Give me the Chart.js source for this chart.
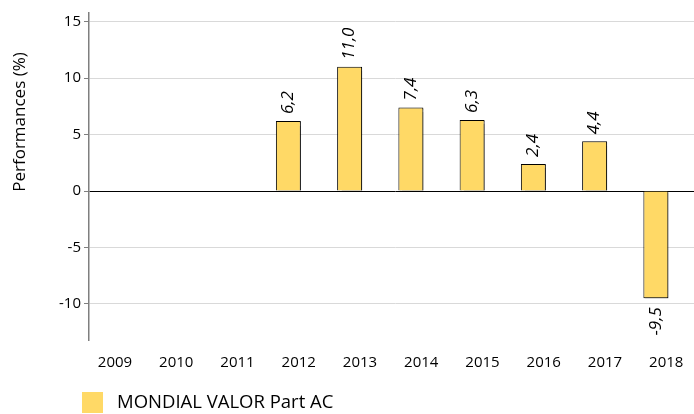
<!DOCTYPE html>
<html>
<head>
<meta charset="utf-8">
<script src="https://cdn.jsdelivr.net/npm/chart.js@4/dist/chart.umd.min.js"></script>
<style>
  html, body { margin: 0; padding: 0; background: #fff; overflow: hidden; }
  #wrap { width: 702px; height: 414px; position: relative; }
</style>
</head>
<body>
<div id="wrap"><canvas id="perfChart"></canvas></div>
<script>
// Performances annuelles – MONDIAL VALOR Part AC
const annees = ['2009', '2010', '2011', '2012', '2013', '2014', '2015', '2016', '2017', '2018'];
const performances = [null, null, null, 6.2, 11.0, 7.4, 6.3, 2.4, 4.4, -9.5];
const vide = [null, null, null, null, null, null, null, null, null, null];
const graduations = [-10, -5, 0, 5, 10, 15];
const nomFonds = 'MONDIAL VALOR Part AC';

const jaune = '#FFD966';
const police = "'Open Sans', sans-serif";

// ombre légère sous les barres
const ombreBarres = {
  id: 'ombreBarres',
  beforeDatasetDraw(chart) {
    const ctx = chart.ctx;
    ctx.save();
    ctx.shadowColor = 'rgba(0,0,0,0.45)';
    ctx.shadowOffsetX = 1.5;
    ctx.shadowOffsetY = 1;
    ctx.shadowBlur = 1;
  },
  afterDatasetDraw(chart) {
    chart.ctx.restore();
  }
};

// étiquettes de valeur verticales, format français
const etiquettes = {
  id: 'etiquettes',
  afterDatasetsDraw(chart) {
    const ctx = chart.ctx;
    const meta = chart.getDatasetMeta(0);
    ctx.save();
    ctx.font = 'italic 17px ' + police;
    ctx.fillStyle = '#000';
    ctx.textBaseline = 'middle';
    meta.data.forEach((bar, i) => {
      const v = performances[i];
      if (v === null) return;
      const txt = v.toFixed(1).replace('.', ',');
      ctx.save();
      if (v >= 0) {
        ctx.translate(bar.x, bar.y - 7);
        ctx.rotate(-Math.PI / 2);
        ctx.textAlign = 'left';
      } else {
        ctx.translate(bar.x, bar.y + 9);
        ctx.rotate(-Math.PI / 2);
        ctx.textAlign = 'right';
      }
      ctx.fillText(txt, 0, 0);
      ctx.restore();
    });
    ctx.restore();
  }
};

// titre de l'axe vertical et légende en bas à gauche
const decor = {
  id: 'decor',
  afterDraw(chart) {
    const ctx = chart.ctx;
    ctx.save();
    ctx.fillStyle = '#000';
    ctx.font = '17px ' + police;
    ctx.textAlign = 'center';
    ctx.textBaseline = 'middle';
    ctx.translate(20, 122);
    ctx.rotate(-Math.PI / 2);
    ctx.fillText('Performances (%)', 0, 0);
    ctx.restore();

    ctx.save();
    ctx.fillStyle = jaune;
    ctx.fillRect(82, 392, 21, 21);
    ctx.fillStyle = '#000';
    ctx.font = '18.5px ' + police;
    ctx.textAlign = 'left';
    ctx.textBaseline = 'middle';
    ctx.fillText(chart.data.datasets[0].label, 117, 403);
    ctx.restore();
  }
};

new Chart(document.getElementById('perfChart'), {
  type: 'bar',
  data: {
    labels: annees,
    datasets: [{
      label: nomFonds,
      data: performances,
      backgroundColor: jaune,
      borderColor: '#000',
      borderWidth: 1,
      barPercentage: 0.833,
      categoryPercentage: 0.979
    }, {
      // série vide : décale la barre à gauche du libellé
      label: '',
      data: vide,
      backgroundColor: 'transparent',
      barPercentage: 0.833,
      categoryPercentage: 0.979
    }]
  },
  options: {
    responsive: true,
    maintainAspectRatio: false,
    animation: false,
    layout: { padding: { top: 13, right: 0, bottom: 0, left: 0 } },
    plugins: {
      legend: { display: false },
      tooltip: { enabled: false }
    },
    scales: {
      x: {
        grid: { display: false, drawTicks: false },
        border: { display: false },
        ticks: { color: '#000', font: { family: police, size: 15 }, padding: 14, maxRotation: 0, labelOffset: -4.6 },
        afterFit(axis) { axis.height = 74; }
      },
      y: {
        min: -13.2,
        max: 15.77,
        afterBuildTicks(axis) {
          axis.ticks = graduations.map(v => ({ value: v }));
        },
        grid: {
          color: ctx => ctx.tick && ctx.tick.value === 0 ? '#000' : '#d9d9d9',
          lineWidth: 1,
          tickColor: '#7f7f7f',
          tickLength: 5
        },
        border: { color: '#7f7f7f', width: 1.5 },
        ticks: { color: '#000', font: { family: police, size: 15 }, padding: 3 },
        afterFit(axis) { axis.width = 89; }
      }
    }
  },
  plugins: [ombreBarres, etiquettes, decor]
});
</script>
</body>
</html>
